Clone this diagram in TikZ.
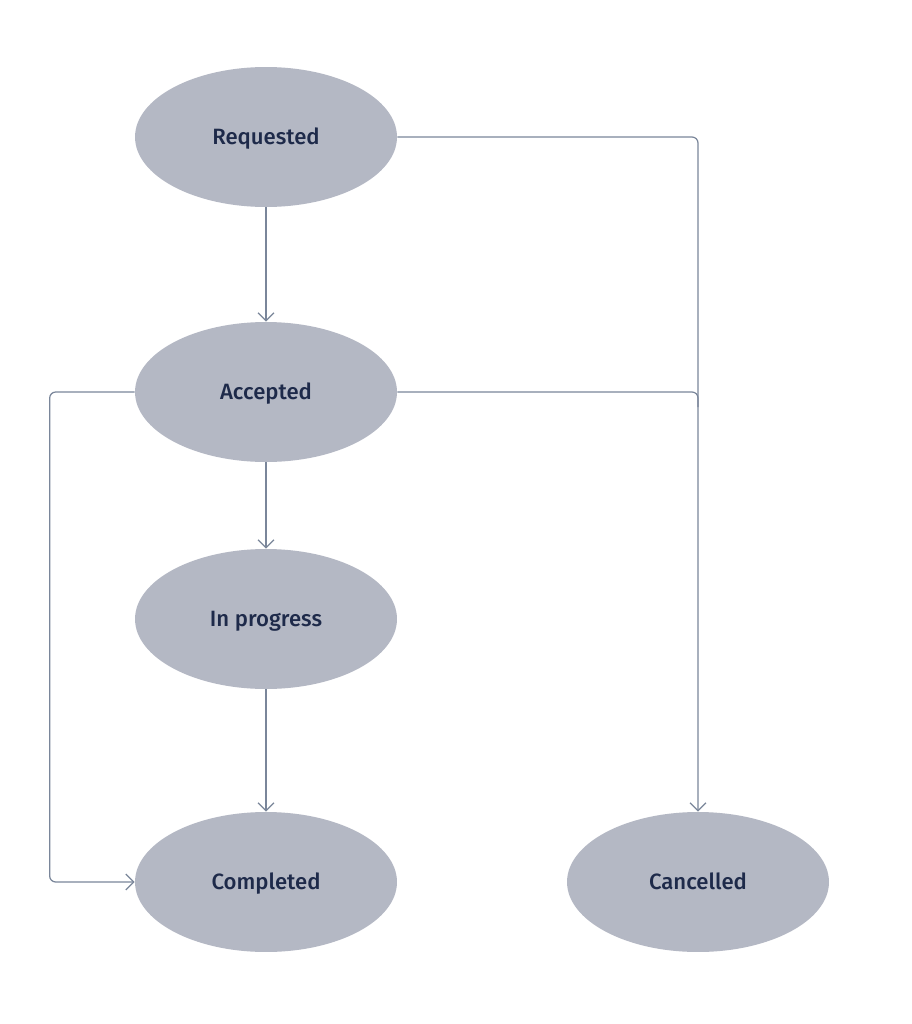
\documentclass[tikz,border=0pt]{standalone}
\usepackage{fontspec}
\setmainfont{Fira Sans}[BoldFont={Fira Sans Medium}]
\usetikzlibrary{shapes.geometric,arrows.meta}
\definecolor{statefill}{HTML}{B4B8C4}
\definecolor{statetext}{HTML}{1E2A4A}
\definecolor{linkgray}{HTML}{7A869A}
\tikzset{
	state/.style={ellipse, fill=statefill, minimum width=5.24cm, minimum height=2.8cm, inner sep=0pt, text=statetext, text height=0.31cm, text depth=0pt, font=\fontsize{12.6}{14}\selectfont\bfseries},
	link/.style={draw=linkgray, line width=0.7pt, rounded corners=0.12cm, -{Straight Barb[length=1.6mm, width=3.2mm]}},
}
\begin{document}
\begin{tikzpicture}[x=0.02cm, y=-0.02cm]
		%%%%% START %%%%%
		
		\useasboundingbox[fill=white] (0, 0) rectangle (912, 1024);
		
		\node[state] (requested) at (266, 137) {Requested};
		\node[state] (accepted) at (266, 392) {Accepted};
		\node[state] (inprogress) at (266, 619) {In progress};
		\node[state] (completed) at (266, 882) {Completed};
		\node[state] (cancelled) at (698, 882) {Cancelled};
		
		\draw[link] (requested) -- (accepted);
		\draw[link] (accepted) -- (inprogress);
		\draw[link] (inprogress) -- (completed);
		
		\draw[link] (requested.east) -| (cancelled.north);
		\draw[link, -] (accepted.east) -| ([yshift=-0.3cm] accepted.east -| cancelled.north);
		\draw[link] (accepted.west) -- ++(-85, 0) |- (completed.west);
		
		%%%%% END %%%%%
	\end{tikzpicture}
\end{document}
